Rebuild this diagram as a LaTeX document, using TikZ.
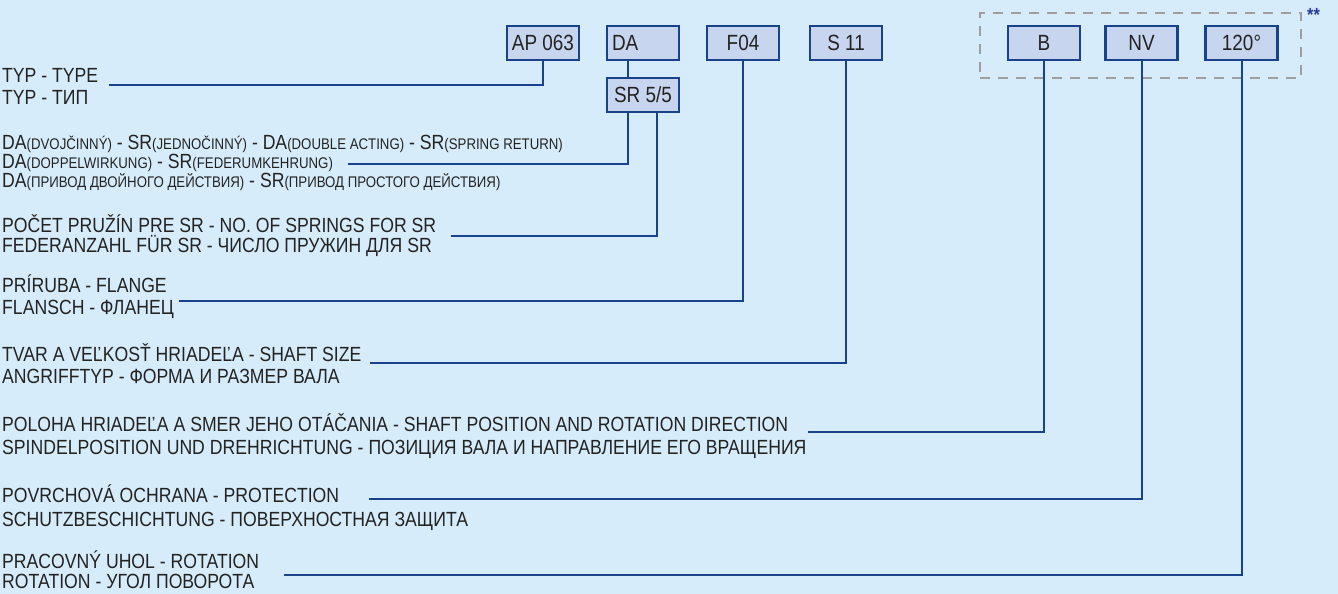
\documentclass[tikz,border=0pt]{standalone}
\usepackage{fontspec}
\setmainfont[FakeStretch=0.86]{Liberation Sans}
\definecolor{bgblue}{RGB}{214,236,250}
\definecolor{boxfill}{RGB}{199,213,239}
\definecolor{codeblue}{RGB}{24,66,138}
\definecolor{txtgray}{RGB}{35,35,35}
\definecolor{dashgray}{RGB}{158,158,158}
\definecolor{starblue}{RGB}{40,60,160}
\usetikzlibrary{calc}

\newcommand{\sm}[1]{{\fontsize{15.4}{15.4}\selectfont #1}}

\tikzset{
  codebox/.style={draw=codeblue, fill=boxfill, line width=2.2pt, minimum width=72pt, minimum height=34pt, inner sep=0pt, font=\fontsize{22}{22}\selectfont, text=txtgray},
  optbox/.style={draw=dashgray, line width=2pt, dash pattern=on 10pt off 8pt, minimum width=321pt, minimum height=65pt},
  lbl/.style={anchor=base west, inner sep=0pt, font=\fontsize{20.5}{21}\selectfont, text=txtgray},
  conn/.style={draw=codeblue, line width=2pt},
}

\begin{document}
\begin{tikzpicture}[x=1pt,y=-1pt]
  \fill[bgblue] (0,0) rectangle (1338,594);
  \useasboundingbox (0,0) rectangle (1338,594);

  %% Optional part of the code
  \node[optbox] (opt) at (1140.5,45.5) {};
  \node[font=\fontsize{19}{19}\selectfont\bfseries, text=starblue, anchor=north west, inner sep=0pt] (note) at (1307,8) {**};

  %% Code boxes
  \node[codebox] (ap) at (543,43) {AP 063};
  \node[codebox, text width=62pt, align=left] (da) at (643,43) {DA};
  \node[codebox] (sr) at (643,95) {SR 5/5};
  \node[codebox] (flange) at (743,43) {F04};
  \node[codebox] (shaft) at (846,43) {S 11};
  \node[codebox] (pos) at (1044,43) {B};
  \node[codebox] (prot) at (1141.5,43) {NV};
  \node[codebox] (rot) at (1241.5,43) {120°};

  %% Labels
  \node[lbl] (typ1) at (2,82) {TYP - TYPE};
  \node[lbl] (typ2) at (2,104) {TYP - ТИП};
  \node[lbl] (act1) at (2,149) {DA\sm{(DVOJČINNÝ)} - SR\sm{(JEDNOČINNÝ)} - DA\sm{(DOUBLE ACTING)} - SR\sm{(SPRING RETURN)}};
  \node[lbl] (act2) at (2,168) {DA\sm{(DOPPELWIRKUNG)} - SR\sm{(FEDERUMKEHRUNG)}};
  \node[lbl] (act3) at (2,187) {DA\sm{(ПРИВОД ДВОЙНОГО ДЕЙСТВИЯ)} - SR\sm{(ПРИВОД ПРОСТОГО ДЕЙСТВИЯ)}};
  \node[lbl] (spr1) at (2,232) {POČET PRUŽÍN PRE SR - NO. OF SPRINGS FOR SR};
  \node[lbl] (spr2) at (2,252) {FEDERANZAHL FÜR SR - ЧИСЛО ПРУЖИН ДЛЯ SR};
  \node[lbl] (fl1) at (2,292) {PRÍRUBA - FLANGE};
  \node[lbl] (fl2) at (2,314) {FLANSCH - ФЛАНЕЦ};
  \node[lbl] (sh1) at (2,361) {TVAR A VEĽKOSŤ HRIADEĽA - SHAFT SIZE};
  \node[lbl] (sh2) at (2,383) {ANGRIFFTYP - ФОРМА И РАЗМЕР ВАЛА};
  \node[lbl] (po1) at (2,431) {POLOHA HRIADEĽA A SMER JEHO OTÁČANIA - SHAFT POSITION AND ROTATION DIRECTION};
  \node[lbl] (po2) at (2,454) {SPINDELPOSITION UND DREHRICHTUNG - ПОЗИЦИЯ ВАЛА И НАПРАВЛЕНИЕ ЕГО ВРАЩЕНИЯ};
  \node[lbl] (pr1) at (2,502) {POVRCHOVÁ OCHRANA - PROTECTION};
  \node[lbl] (pr2) at (2,526) {SCHUTZBESCHICHTUNG - ПОВЕРХНОСТНАЯ ЗАЩИТА};
  \node[lbl] (ro1) at (2,568) {PRACOVNÝ UHOL - ROTATION};
  \node[lbl] (ro2) at (2,588) {ROTATION - УГОЛ ПОВОРОТА};

  %% Connectors
  \draw[conn] ([xshift=11pt]typ1.east |- 0,85) -| (ap.south);
  \draw[conn] (da.south -| 628,0) -- (sr.north -| 628,0);
  \draw[conn] ([xshift=15pt]act2.east |- 0,164) -| (sr.south -| 628,0);
  \draw[conn] ([xshift=15pt]spr1.east |- 0,236) -| (sr.south -| 657,0);
  \draw[conn] ([xshift=12pt]fl1.east |- 0,301) -| (flange.south);
  \draw[conn] ([xshift=8pt]sh1.east |- 0,363) -| (shaft.south);
  \draw[conn] ([xshift=20pt]po1.east |- 0,432) -| (pos.south);
  \draw[conn] ([xshift=30pt]pr1.east |- 0,499) -| (prot.south);
  \draw[conn] ([xshift=25pt]ro1.east |- 0,575) -| (rot.south);
\end{tikzpicture}
\end{document}
